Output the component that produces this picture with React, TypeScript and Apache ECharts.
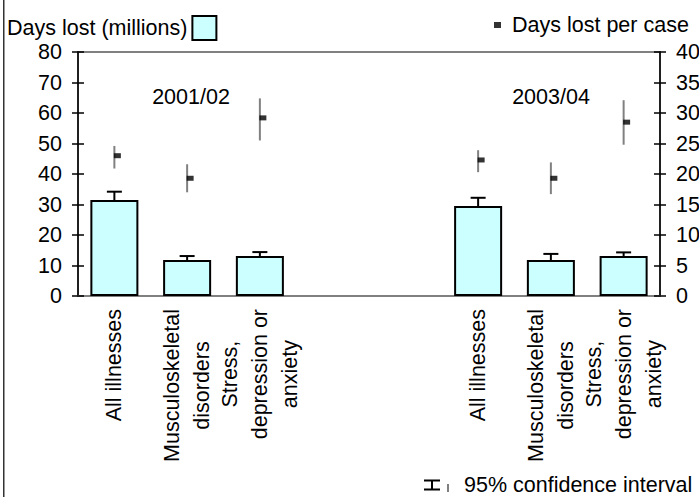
import React, { useEffect, useRef } from "react";
import * as echarts from "echarts";

const categories = [
  "All illnesses",
  "Musculoskeletal\ndisorders",
  "Stress,\ndepression or\nanxiety",
  "",
  "",
  "All illnesses",
  "Musculoskeletal\ndisorders",
  "Stress,\ndepression or\nanxiety",
];
const daysLost = [31.5, 11.8, 13.1, null, null, 29.5, 11.8, 13.1];
const daysLostLow = [28.8, 10.4, 11.0, null, null, 26.9, 9.8, 11.1];
const daysLostHigh = [34.2, 13.1, 14.4, null, null, 32.2, 13.8, 14.3];
const perCase = [23.0, 19.3, 29.2, null, null, 22.3, 19.3, 28.5];
const perCaseLow = [20.9, 17.0, 25.5, null, null, 20.3, 16.7, 24.8];
const perCaseHigh = [24.6, 21.6, 32.4, null, null, 23.9, 21.9, 32.1];
const periodLabels = ["2001/02", "2003/04"];
const leftTicks = { min: 0, max: 80, interval: 10 };
const rightTicks = { min: 0, max: 40, interval: 5 };

const FONT = "'Liberation Sans', Arial, sans-serif";
const FS = 21.5;

export default function App() {
  const ref = useRef<HTMLDivElement>(null);
  useEffect(() => {
    if (!ref.current) return;
    const chart = echarts.init(ref.current, null, { renderer: "svg" });

    const errData: any[] = [];
    const ciData: any[] = [];
    categories.forEach((_, i) => {
      if (daysLost[i] != null) errData.push([i, daysLostLow[i], daysLostHigh[i]]);
      if (perCase[i] != null) ciData.push([i, perCaseLow[i], perCaseHigh[i]]);
    });

    const yBase = (pos: string, t: any) => ({
      type: "value",
      position: pos,
      min: t.min,
      max: t.max,
      interval: t.interval,
      splitLine: { show: false },
    });

    const option: any = {
      animation: false,
      backgroundColor: "#fff",
      textStyle: { fontFamily: FONT, color: "#000" },
      grid: {
        left: 78,
        right: 39,
        top: 52,
        bottom: 201,
        show: true,
        borderColor: "#808080",
        borderWidth: 2,
        outerBoundsMode: "none",
      },
      legend: [
        {
          data: ["Days lost (millions)"],
          left: 7,
          top: 15,
          padding: 0,
          align: "right",
          itemWidth: 24,
          itemHeight: 24,
          selectedMode: false,
          icon: "rect",
          itemStyle: { color: "#CCFFFF", borderColor: "#000", borderWidth: 2 },
          textStyle: { fontSize: FS, fontFamily: FONT, color: "#000" },
        },
        {
          data: ["Days lost per case"],
          left: 494,
          top: 14,
          padding: 0,
          itemWidth: 7,
          itemHeight: 6,
          selectedMode: false,
          icon: "rect",
          itemStyle: { color: "#000" },
          textStyle: { fontSize: FS, fontFamily: FONT, color: "#000", padding: [0, 0, 0, 6] },
        },
        {
          data: ["95% confidence interval"],
          left: 424,
          top: 474,
          padding: 0,
          itemWidth: 16,
          itemHeight: 11,
          selectedMode: false,
          icon: "path://M0,0H16V2H9V9H16V11H0V9H7V2H0Z",
          itemStyle: { color: "#000" },
          textStyle: { fontSize: FS, fontFamily: FONT, color: "#000", padding: [0, 0, 0, 19] },
        },
      ],
      xAxis: {
        type: "category",
        data: categories,
        axisLine: { show: true, lineStyle: { color: "#808080", width: 2 } },
        axisTick: { show: false },
        axisLabel: {
          interval: 0,
          rotate: 90,
          margin: 13,
          color: "#000",
          fontSize: FS,
          fontFamily: FONT,
          formatter: (v: string) =>
            v ? v.split("\n").map((l) => `{c|${l}}`).join("\n") : "",
          rich: {
            c: { align: "center", fontSize: FS, fontFamily: FONT, color: "#000", lineHeight: 30 },
          },
        },
      },
      yAxis: [
        {
          ...yBase("left", leftTicks),
          axisLine: { show: true, lineStyle: { color: "#000", width: 1.5 } },
          axisTick: { show: true, inside: false, length: 6, lineStyle: { color: "#000", width: 1.5 } },
          axisLabel: { margin: 16, fontSize: FS, fontFamily: FONT, color: "#000" },
        },
        {
          ...yBase("right", rightTicks),
          axisLine: { show: true, lineStyle: { color: "#000", width: 1.5 } },
          axisTick: { show: true, inside: false, length: 6, lineStyle: { color: "#000", width: 1.5 } },
          axisLabel: { margin: 16, fontSize: FS, fontFamily: FONT, color: "#000" },
        },
        {
          ...yBase("left", leftTicks),
          axisLine: { show: false },
          axisTick: { show: true, inside: true, length: 6, lineStyle: { color: "#000", width: 1.5 } },
          axisLabel: { show: false },
        },
        {
          ...yBase("right", rightTicks),
          axisLine: { show: false },
          axisTick: { show: true, inside: true, length: 6, lineStyle: { color: "#000", width: 1.5 } },
          axisLabel: { show: false },
        },
      ],
      series: [
        {
          name: "Days lost (millions)",
          type: "bar",
          yAxisIndex: 0,
          data: daysLost,
          barWidth: "66%",
          itemStyle: { color: "#CCFFFF", borderColor: "#000", borderWidth: 2 },
        },
        {
          name: "95% confidence interval",
          type: "custom",
          yAxisIndex: 0,
          data: errData,
          itemStyle: { color: "#000" },
          encode: { x: 0, y: [1, 2] },
          renderItem: (params: any, api: any) => {
            const x = api.value(0);
            const lo = api.coord([x, api.value(1)]);
            const hi = api.coord([x, api.value(2)]);
            const cx = lo[0];
            const h = 7.5;
            const st = { stroke: "#000", lineWidth: 2 };
            return {
              type: "group",
              children: [
                { type: "line", shape: { x1: cx, y1: lo[1], x2: cx, y2: hi[1] }, style: st },
                { type: "line", shape: { x1: cx - h, y1: lo[1], x2: cx + h, y2: lo[1] }, style: st },
                { type: "line", shape: { x1: cx - h, y1: hi[1], x2: cx + h, y2: hi[1] }, style: st },
              ],
            };
          },
        },
        {
          name: "CI per case",
          type: "custom",
          yAxisIndex: 1,
          data: ciData,
          itemStyle: { color: "#808080" },
          encode: { x: 0, y: [1, 2] },
          renderItem: (params: any, api: any) => {
            const x = api.value(0);
            const lo = api.coord([x, api.value(1)]);
            const hi = api.coord([x, api.value(2)]);
            return {
              type: "line",
              shape: { x1: lo[0], y1: lo[1], x2: hi[0], y2: hi[1] },
              style: { stroke: "#808080", lineWidth: 2 },
            };
          },
        },
        {
          name: "Days lost per case",
          type: "scatter",
          yAxisIndex: 1,
          data: perCase,
          symbol: "rect",
          symbolSize: [7, 5],
          symbolOffset: [3, 0],
          itemStyle: { color: "#000" },
          z: 5,
        },
      ],
      graphic: [
        { type: "rect", shape: { x: 3, y: 0, width: 1.5, height: 497 }, style: { fill: "#333" } },
        {
          type: "text",
          x: 191,
          y: 97,
          style: { text: periodLabels[0], fontSize: FS, fontFamily: FONT, fill: "#000", align: "center", verticalAlign: "middle" },
        },
        {
          type: "text",
          x: 551,
          y: 97,
          style: { text: periodLabels[1], fontSize: FS, fontFamily: FONT, fill: "#000", align: "center", verticalAlign: "middle" },
        },
        { type: "rect", shape: { x: 447, y: 484, width: 2, height: 8 }, style: { fill: "#808080" } },
      ],
    };
    chart.setOption(option);
    return () => chart.dispose();
  }, []);
  return (
    <div
      ref={ref}
      style={{ position: "absolute", left: 0, top: 0, width: 699, height: 497 }}
    />
  );
}
